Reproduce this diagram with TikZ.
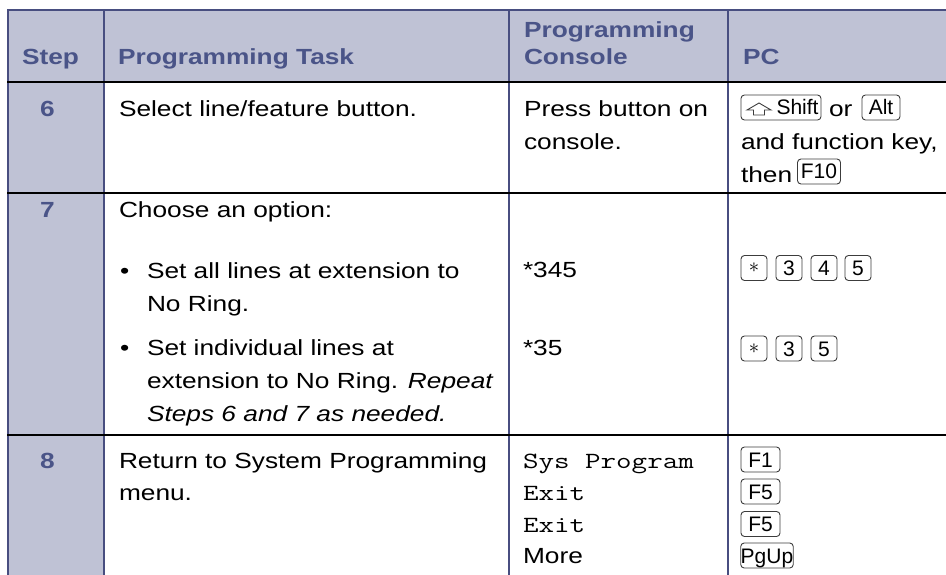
\documentclass[tikz,border=0pt]{standalone}
\usepackage{fontspec}
\setmainfont{Liberation Sans}[FakeStretch=1.2]
\newfontfamily\keyfont{Liberation Sans}
\usepackage{graphicx}
\definecolor{hdrfill}{RGB}{191,194,213}
\definecolor{hdrtext}{RGB}{74,84,136}
\definecolor{rulecol}{RGB}{72,78,128}
\definecolor{keyline}{RGB}{60,60,60}
\newcommand{\bodysize}{\fontsize{21.9pt}{26pt}\selectfont}
\newcommand{\courtxt}[1]{\scalebox{1.3}[1]{\ttfamily\fontsize{23.2pt}{26pt}\selectfont #1}}
\begin{document}
\begin{tikzpicture}[x=1pt,y=-1pt,
  every node/.style={inner sep=0pt,outer sep=0pt},
  txt/.style={anchor=base west,font=\bodysize},
  hdr/.style={anchor=base west,font=\bodysize\bfseries,text=hdrtext},
  keybox/.style={draw=keyline,line width=0.9pt,rounded corners=3.5pt,minimum height=25pt,
    font=\keyfont\fontsize{21pt}{21pt}\selectfont,text height=15pt,text depth=0pt},
  keylab/.style={font=\keyfont\fontsize{21pt}{21pt}\selectfont,text height=15pt,text depth=0pt},
  starlab/.style={font=\fontsize{22pt}{22pt}\selectfont},
  vrule/.style={draw=rulecol,line width=1.1pt},
  hrule/.style={draw=black,line width=2pt}]
\useasboundingbox (0,0) rectangle (946,575);
% fills
\fill[hdrfill] (8,10) rectangle (946,82);
\fill[hdrfill] (8,82) rectangle (104,575);
% rules
\draw[draw=rulecol,line width=1.8pt] (7.3,10) -- (946,10);
\draw[vrule] (8,10) -- (8,575);
\draw[vrule] (104,10) -- (104,575);
\draw[vrule] (509,10) -- (509,575);
\draw[vrule] (728,10) -- (728,575);
\draw[hrule] (7,82) -- (946,82);
\draw[hrule] (7,193) -- (946,193);
\draw[hrule] (7,435) -- (946,435);
% header
\node[hdr] (hstep) at (22,65) {Step};
\node[hdr] (htask) at (118,65) {Programming Task};
\node[hdr] (hcon1) at (524,38) {Programming};
\node[hdr] (hcon2) at (524,65) {Console};
\node[hdr] (hpc) at (743,65) {PC};
% row 6
\node[hdr] (n6) at (40,117) {6};
\node[txt] (t6) at (119,117) {Select line/feature button.};
\node[txt] (c6a) at (524,117) {Press button on};
\node[txt] (c6b) at (524,150) {console.};
\node[keybox,minimum width=80pt] (kshift) at (781,107.5) {};
\node[keylab,anchor=west] (kshiftl) at (776.5,107.5) {Shift};
\draw[keyline,line width=0.9pt,line join=miter] (753.5,115) -- (753.5,110) -- (747,110) -- (759,103) -- (771,110) -- (764.5,110) -- (764.5,115) -- cycle;
\node[txt] (por) at (829,117) {or};
\node[keybox,minimum width=38pt] (kalt) at (881,107.5) {Alt};
\node[txt] (p6b) at (741,150) {and function key,};
\node[txt] (p6c) at (741,183) {then};
\node[keybox,minimum width=43pt] (kf10) at (819,171.5) {F10};
% row 7
\node[hdr] (n7) at (40,218) {7};
\node[txt] (t7) at (119,218) {Choose an option:};
\node[txt] (b1) at (120,278) {•};
\node[txt] (t7a) at (147,278) {Set all lines at extension to};
\node[txt] (t7b) at (147,311) {No Ring.};
\node[txt] (b2) at (120,355) {•};
\node[txt] (t7c) at (147,355) {Set individual lines at};
\node[txt] (t7d) at (147,388) {extension to No Ring. \textit{Repeat}};
\node[txt] (t7e) at (147,421) {\textit{Steps 6 and 7 as needed.}};
\node[txt] (c7a) at (523,277) {*345};
\node[txt] (c7b) at (523,355) {*35};
\node[keybox,minimum width=26pt] (ka1) at (754,268) {};
\node[starlab] (ka1l) at (ka1.center) {$\ast$};
\node[keybox,minimum width=26pt] (ka2) at (789,268) {3};
\node[keybox,minimum width=26pt] (ka3) at (824,268) {4};
\node[keybox,minimum width=26pt] (ka4) at (858,268) {5};
\node[keybox,minimum width=26pt] (kb1) at (754,348.5) {};
\node[starlab] (kb1l) at (kb1.center) {$\ast$};
\node[keybox,minimum width=26pt] (kb2) at (789,348.5) {3};
\node[keybox,minimum width=26pt] (kb3) at (824,348.5) {5};
% row 8
\node[hdr] (n8) at (40,468) {8};
\node[txt] (t8a) at (119,468) {Return to System Programming};
\node[txt] (t8b) at (119,500) {menu.};
\node[anchor=base west] (c8a) at (523,468) {\courtxt{Sys Program}};
\node[anchor=base west] (c8b) at (523,500) {\courtxt{Exit}};
\node[anchor=base west] (c8c) at (523,532) {\courtxt{Exit}};
\node[txt] (c8d) at (523,563) {More};
\node[keybox,minimum width=39pt] (kf1) at (760.5,459.5) {F1};
\node[keybox,minimum width=39pt] (kf5a) at (760.5,491.5) {F5};
\node[keybox,minimum width=39pt] (kf5b) at (760.5,524) {F5};
\node[keybox,minimum width=52pt] (kpg) at (767,555.5) {PgUp};
\end{tikzpicture}
\end{document}
